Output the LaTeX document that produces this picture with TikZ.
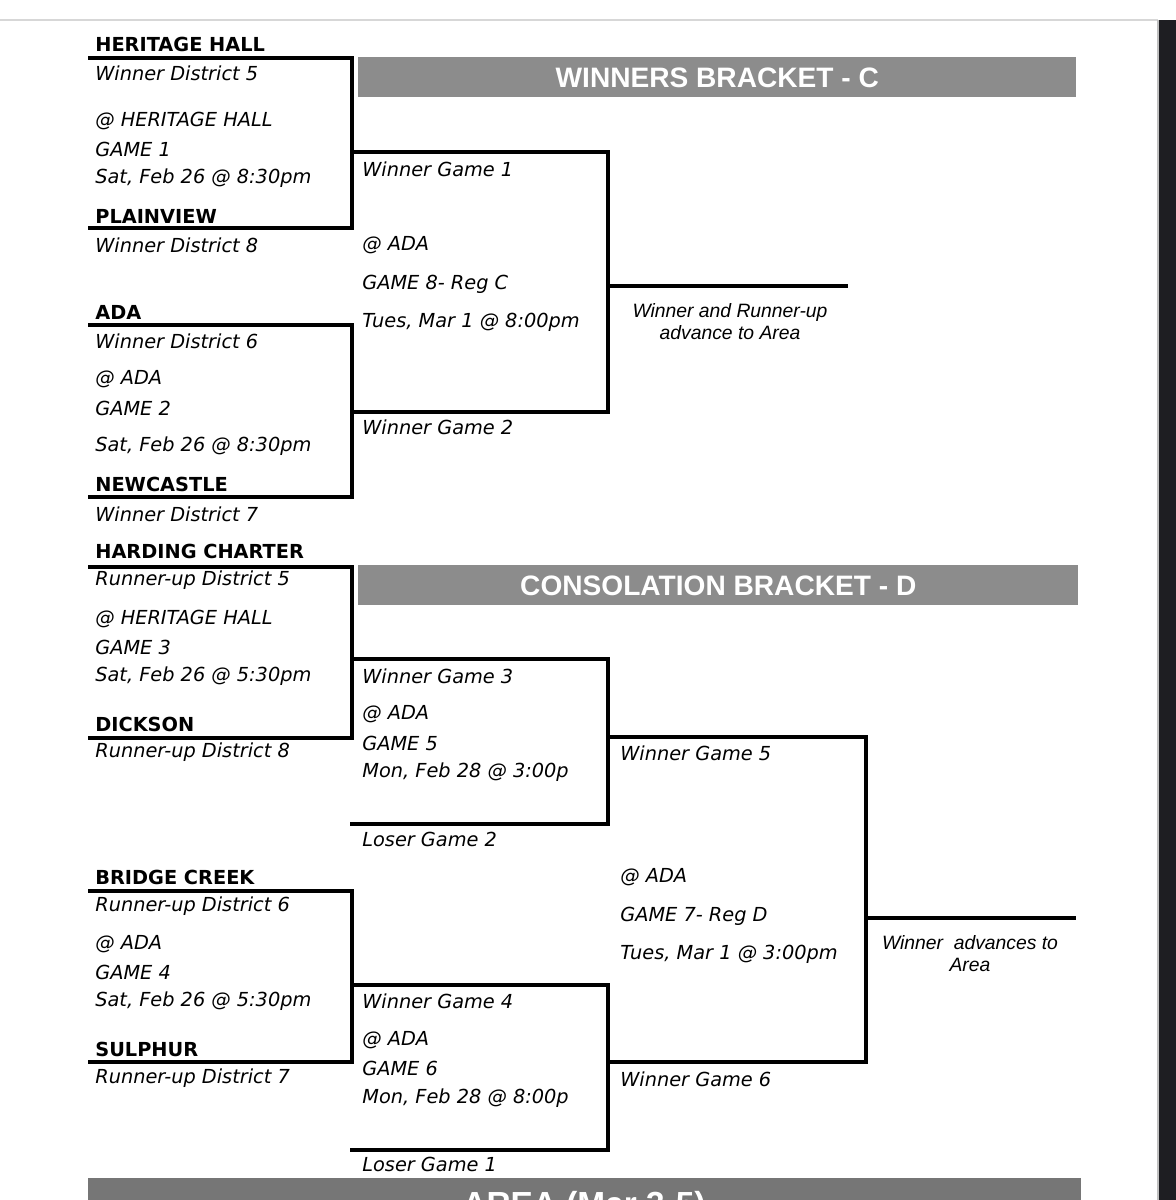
\documentclass[tikz,border=0pt]{standalone}
\usepackage{fontspec}
\setmainfont{DejaVu Sans}
\newfontfamily\arialfont{Liberation Sans}
\usepackage{tikz}
\usetikzlibrary{positioning}
\definecolor{bannergray}{RGB}{140,140,140}
\definecolor{areagray}{RGB}{118,118,118}
\definecolor{scrollbar}{RGB}{30,30,34}
\definecolor{rulegray}{RGB}{215,215,215}

\begin{document}
\begin{tikzpicture}[
    x=0.02cm, y=-0.02cm,
    team/.style={anchor=west, inner sep=0pt, font=\fontsize{11}{13}\selectfont\bfseries},
    info/.style={anchor=west, inner sep=0pt, font=\fontsize{11}{13}\selectfont\itshape},
    note/.style={inner sep=0pt, align=center, font=\arialfont\fontsize{11}{12.6}\selectfont\itshape},
    banner/.style={fill=bannergray, text=white, inner sep=0pt, anchor=north west, minimum height=0.8cm, font=\arialfont\bfseries\fontsize{16}{16}\selectfont},
    bk/.style={line width=2.8pt}
]
\useasboundingbox (0,0) rectangle (1176,1200);
% Page and window edge
\fill[white] (0,0) rectangle (1176,1200);
\draw[rulegray, line width=0.8pt] (0,20) -- (1158,20);
\fill[scrollbar] (1158,20) rectangle (1176,1200);
\draw[gray!50, line width=0.6pt] (1158,20) -- (1158,1200);

% Banners
\node[banner, minimum width=14.36cm] (wbanner) at (358,57) {WINNERS BRACKET - C};
\node[banner, minimum width=14.4cm] (cbanner) at (358,565) {CONSOLATION BRACKET - D};
\begin{scope}
  \clip (88,1178) rectangle (1081,1200);
  \fill[areagray] (88,1178) rectangle (1081,1230);
  \node[anchor=base, inner sep=0pt, text=white, font=\arialfont\bfseries\fontsize{19}{19}\selectfont] (area) at (584,1215) {AREA (Mar 3-5)};
\end{scope}

% Winners bracket: game 1
\node[team] (hh)     at (95,44)  {HERITAGE HALL};
\node[info] (hhsub)  at (95,73)  {Winner District 5};
\node[info] (g1site) at (95,121) {@ HERITAGE HALL};
\node[info] (g1name) at (95,149) {GAME 1};
\node[info] (g1date) at (95,178) {Sat, Feb 26 @ 8:30pm};
\node[team] (pv)     at (95,216) {PLAINVIEW};
\node[info] (pvsub)  at (95,245) {Winner District 8};

% Winners bracket: game 2
\node[team] (ada)    at (95,312) {ADA};
\node[info] (adasub) at (95,341) {Winner District 6};
\node[info] (g2site) at (95,379) {@ ADA};
\node[info] (g2name) at (95,408) {GAME 2};
\node[info] (g2date) at (95,446) {Sat, Feb 26 @ 8:30pm};
\node[team] (nc)     at (95,484) {NEWCASTLE};
\node[info] (ncsub)  at (95,514) {Winner District 7};

% Winners bracket: game 8
\node[info] (wg1)    at (362,169) {Winner Game 1};
\node[info] (g8site) at (362,245) {@ ADA};
\node[info] (g8name) at (362,284) {GAME 8- Reg C};
\node[info] (g8date) at (362,322) {Tues, Mar 1 @ 8:00pm};
\node[info] (wg2)    at (362,427) {Winner Game 2};
\node[note] (wnote)  at (730,322) {Winner and Runner-up\\advance to Area};

% Consolation bracket: game 3
\node[team] (hc)     at (95,551) {HARDING CHARTER};
\node[info] (hcsub)  at (95,580) {Runner-up District 5};
\node[info] (g3site) at (95,619) {@ HERITAGE HALL};
\node[info] (g3name) at (95,647) {GAME 3};
\node[info] (g3date) at (95,676) {Sat, Feb 26 @ 5:30pm};
\node[team] (dk)     at (95,724) {DICKSON};
\node[info] (dksub)  at (95,752) {Runner-up District 8};

% Consolation bracket: game 4
\node[team] (bc)     at (95,877)  {BRIDGE CREEK};
\node[info] (bcsub)  at (95,906)  {Runner-up District 6};
\node[info] (g4site) at (95,944)  {@ ADA};
\node[info] (g4name) at (95,972)  {GAME 4};
\node[info] (g4date) at (95,1001) {Sat, Feb 26 @ 5:30pm};
\node[team] (sp)     at (95,1049) {SULPHUR};
\node[info] (spsub)  at (95,1078) {Runner-up District 7};

% Consolation bracket: games 5 and 6
\node[info] (wg3)    at (362,676)  {Winner Game 3};
\node[info] (g5site) at (362,714)  {@ ADA};
\node[info] (g5name) at (362,743)  {GAME 5};
\node[info] (g5date) at (362,772)  {Mon, Feb 28 @ 3:00p};
\node[info] (lg2)    at (362,839)  {Loser Game 2};
\node[info] (wg4)    at (362,1001) {Winner Game 4};
\node[info] (g6site) at (362,1040) {@ ADA};
\node[info] (g6name) at (362,1068) {GAME 6};
\node[info] (g6date) at (362,1098) {Mon, Feb 28 @ 8:00p};
\node[info] (lg1)    at (362,1164) {Loser Game 1};

% Consolation bracket: game 7
\node[info] (wg5)    at (620,753)  {Winner Game 5};
\node[info] (g7site) at (620,877)  {@ ADA};
\node[info] (g7name) at (620,916)  {GAME 7- Reg D};
\node[info] (g7date) at (620,954)  {Tues, Mar 1 @ 3:00pm};
\node[info] (wg6)    at (620,1079) {Winner Game 6};
\node[note] (cnote)  at (970,954)  {Winner\ \ advances to\\Area};

% Bracket lines
\coordinate (g1top) at (88,58);   \coordinate (g1bot) at (88,228);  \coordinate (r1x) at (352,0);
\coordinate (g2top) at (88,325);  \coordinate (g2bot) at (88,497);
\coordinate (g3top) at (88,567);  \coordinate (g3bot) at (88,738);
\coordinate (g4top) at (88,891);  \coordinate (g4bot) at (88,1062);
\coordinate (g8top) at (352,152); \coordinate (g8bot) at (352,412); \coordinate (r2x) at (608,0);
\coordinate (g5top) at (352,659); \coordinate (g5bot) at (350,824);
\coordinate (g6top) at (352,985); \coordinate (g6bot) at (350,1150);
\coordinate (g7top) at (608,737); \coordinate (g7bot) at (608,1062); \coordinate (r3x) at (866,0);
\coordinate (wout) at (848,286);
\coordinate (cout) at (1076,918);

\draw[bk] (g1top) -| (r1x |- g1bot) -- (g1bot);
\draw[bk] (g2top) -| (r1x |- g2bot) -- (g2bot);
\draw[bk] (g3top) -| (r1x |- g3bot) -- (g3bot);
\draw[bk] (g4top) -| (r1x |- g4bot) -- (g4bot);
\draw[bk] (g8top) -| (r2x |- g8bot) -- (g8bot);
\draw[bk] (g5top) -| (r2x |- g5bot) -- (g5bot);
\draw[bk] (g6top) -| (r2x |- g6bot) -- (g6bot);
\draw[bk] (g7top) -| (r3x |- g7bot) -- (g7bot);
\draw[bk] (r2x |- wout) -- (wout);
\draw[bk] (r3x |- cout) -- (cout);
\end{tikzpicture}
\end{document}
